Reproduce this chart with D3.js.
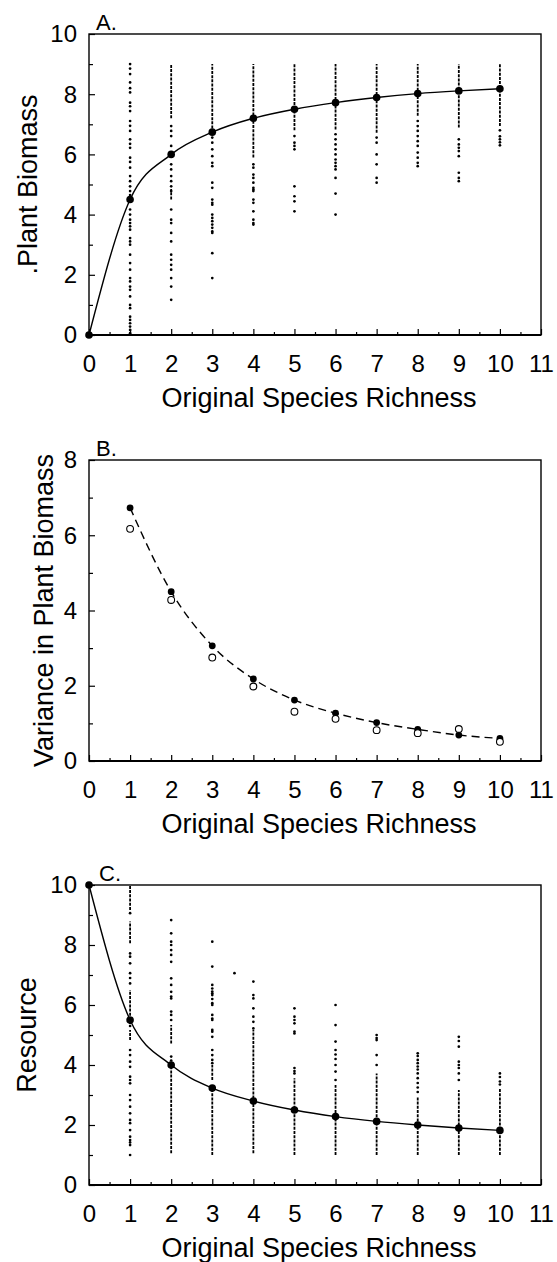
<!DOCTYPE html>
<html>
<head>
<meta charset="utf-8">
<script src="https://cdn.jsdelivr.net/npm/d3@7"></script>
<style>
  body { margin: 0; background: #fff; }
  svg { display: block; }
</style>
</head>
<body>
<svg></svg>
<script>
// ---- data ----
const richness = [0, 1, 2, 3, 4, 5, 6, 7, 8, 9, 10];
const xTickValues = [0, 1, 2, 3, 4, 5, 6, 7, 8, 9, 10, 11];
const xMinorValues = [0.5, 1.5, 2.5, 3.5, 4.5, 5.5, 6.5, 7.5, 8.5, 9.5, 10.5];

// A. plant biomass
const biomassMean = [0, 4.5, 6.0, 6.74, 7.2, 7.5, 7.72, 7.89, 8.02, 8.11, 8.18];
// dense stretches of the replicate columns: [richness, low, high]
const biomassRuns = [
  [2, 7.2, 9.0], [2, 4.5, 4.85], [3, 6.72, 9.0], [4, 5.9, 9.0], [5, 6.8, 9.0],
  [6, 6.83, 9.0], [7, 6.72, 9.0], [8, 7.28, 9.0], [9, 6.89, 9.0], [10, 6.94, 9.0]
];
const biomassDots = {
  1: [9.0, 8.85, 8.67, 8.39, 8.2, 8.06, 7.72, 7.6, 7.44, 7.11, 6.95, 6.78, 6.5, 6.35, 6.22, 5.89, 5.75, 5.56,
      5.28, 5.11, 4.94, 4.78, 4.65, 4.17, 4.0, 3.83, 3.72, 3.61, 3.5, 3.22, 3.11, 3.0, 2.67, 2.39, 2.17, 1.89,
      1.78, 1.61, 1.5, 1.28, 1.0, 0.89, 0.61, 0.5, 0.39, 0.28, 0.17, 0.06],
  2: [6.94, 6.78, 6.61, 6.28, 5.67, 5.5, 5.28, 5.11, 4.94, 4.78, 4.17, 3.83, 3.72, 3.39, 3.11, 2.67, 2.5, 2.33,
      2.17, 1.89, 1.61, 1.17],
  3: [6.56, 6.39, 6.17, 5.94, 5.72, 5.61, 5.06, 4.89, 4.5, 4.39, 4.33, 4.0, 3.89, 3.78, 3.67, 3.56, 3.44, 3.39,
      2.72, 1.89],
  4: [5.67, 5.56, 5.33, 5.22, 5.06, 4.89, 4.83, 4.78, 4.5, 4.39, 4.11, 3.83, 3.72, 3.67],
  5: [6.61, 6.39, 6.28, 6.17, 4.94, 4.61, 4.44, 4.11],
  6: [6.67, 6.5, 6.33, 6.17, 6.0, 5.83, 5.72, 5.61, 5.5, 5.22, 4.7, 4.0],
  7: [6.56, 6.39, 6.0, 5.67, 5.22, 5.06],
  8: [7.11, 6.94, 6.78, 6.61, 6.44, 6.28, 6.06, 5.89, 5.72, 5.61],
  9: [6.5, 6.33, 6.22, 6.11, 5.94, 5.39, 5.22, 5.11],
  10: [6.8, 6.6, 6.5, 6.4, 6.3]
};

// B. variance in plant biomass
const varRichness = [1, 2, 3, 4, 5, 6, 7, 8, 9, 10];
const varFilled = [6.73, 4.5, 3.06, 2.18, 1.62, 1.27, 1.02, 0.84, 0.69, 0.6];
const varOpen = [6.17, 4.28, 2.75, 1.98, 1.31, 1.12, 0.82, 0.74, 0.85, 0.51];

// C. resource
const resourceMean = [10, 5.5, 4.0, 3.23, 2.8, 2.5, 2.28, 2.12, 2.0, 1.9, 1.82];
const resourceRuns = [
  [1, 9.17, 10], [1, 8.06, 8.78], [1, 5.5, 6.5], [1, 4.83, 5.17],
  [2, 4.72, 5.33], [2, 1.06, 3.94], [3, 3.5, 4.0], [3, 1.0, 3.17],
  [4, 1.06, 5.17], [5, 1.0, 3.56], [6, 1.0, 3.33], [7, 1.0, 3.72],
  [8, 1.0, 2.94], [9, 1.0, 3.17], [10, 1.0, 3.2]
];
const resourceDots = {
  1: [9.06, 7.72, 7.61, 7.39, 7.06, 6.9, 6.72, 5.4, 5.3, 4.5, 4.33, 4.11, 3.94, 3.61, 3.5, 3.39, 3.0, 2.83,
      2.61, 2.39, 2.17, 2.06, 1.83, 1.61, 1.5, 1.42, 1.33, 1.0],
  2: [8.83, 8.39, 8.11, 8.0, 7.83, 7.67, 7.44, 6.89, 6.67, 6.44, 6.28, 6.22, 5.78, 5.67, 5.5, 4.28, 4.15],
  3: [8.11, 7.28, 6.67, 6.55, 6.45, 6.39, 6.33, 6.2, 6.06, 6.0, 5.67, 5.55, 5.5, 5.17, 5.11, 4.94, 4.5, 4.33,
      4.17, 4.06],
  3.54: [7.06],
  4: [6.78, 6.33, 6.22, 5.89, 5.61, 5.44, 5.22],
  5: [5.89, 5.61, 5.5, 5.39, 5.11, 5.05, 3.9, 3.8, 3.72],
  6: [6.0, 5.33, 4.78, 4.5, 4.35, 4.2, 4.0, 3.78, 3.5],
  7: [5.0, 4.9, 4.83, 4.33, 4.0],
  8: [4.39, 4.3, 4.17, 4.06, 3.95, 3.85, 3.72, 3.56, 3.4, 3.25, 3.1],
  9: [4.94, 4.8, 4.61, 4.11, 4.0, 3.9, 3.72, 3.5],
  10: [3.72, 3.6, 3.45, 3.35]
};

// ---- layout ----
const WIDTH = 557;
const HEIGHT = 1262;
const LEFT = 89;
const RIGHT = 541;
const FONT = '"Liberation Sans", Arial, Helvetica, sans-serif';
const TICK_FONT = 24;
const TITLE_FONT = 27;

const svg = d3.select('svg').
  attr('width', WIDTH).
  attr('height', HEIGHT).
  attr('font-family', FONT).
  style('background', '#fff');

function drawPanel(p) {
  const x = d3.scaleLinear().domain([0, 11]).range([LEFT, RIGHT]);
  const y = d3.scaleLinear().domain([0, p.yMax]).range([p.bottom, p.top]);
  const g = svg.append('g');

  // minor ticks
  g.append('g').
    attr('transform', `translate(0,${p.bottom})`).
    call(d3.axisBottom(x).tickValues(xMinorValues).tickSize(-3).tickFormat(''));
  g.append('g').
    attr('transform', `translate(${LEFT},0)`).
    call(d3.axisLeft(y).tickValues(p.yMinor).tickSize(-4).tickFormat(''));

  // major ticks with labels
  g.append('g').
    attr('transform', `translate(0,${p.bottom})`).
    call(d3.axisBottom(x).tickValues(xTickValues).tickSize(-6).tickPadding(20).tickFormat(d3.format('d')));
  const yAxis = g.append('g').
    attr('transform', `translate(${LEFT},0)`).
    call(d3.axisLeft(y).tickValues(p.yMajor).tickSize(-6).tickPadding(12).tickFormat(d3.format('d')));

  g.selectAll('.domain').remove();
  g.selectAll('.tick line').attr('stroke', '#000').attr('stroke-width', 1.2);
  g.selectAll('.tick text').
    attr('font-family', FONT).
    attr('font-size', TICK_FONT).
    attr('fill', '#000');
  yAxis.selectAll('.tick text').attr('dy', '0.33em');

  // frame
  g.append('rect').
    attr('x', LEFT).
    attr('y', p.top).
    attr('width', RIGHT - LEFT).
    attr('height', p.bottom - p.top).
    attr('fill', 'none').
    attr('stroke', '#000').
    attr('stroke-width', 1.4);
  g.append('line').
    attr('x1', LEFT).attr('x2', RIGHT).
    attr('y1', p.bottom).attr('y2', p.bottom).
    attr('stroke', '#000').
    attr('stroke-width', 2.2);

  // panel letter
  g.append('text').
    attr('x', LEFT + p.letterDx).
    attr('y', p.top - 4).
    attr('font-size', 22).
    text(p.letter);

  // axis titles
  g.append('text').
    attr('x', (LEFT + RIGHT) / 2 + 4).
    attr('y', p.bottom + 72).
    attr('text-anchor', 'middle').
    attr('font-size', TITLE_FONT).
    text('Original Species Richness');
  g.append('text').
    attr('transform', `translate(${p.yTitleX},${(p.top + p.bottom) / 2}) rotate(-90)`).
    attr('text-anchor', 'middle').
    attr('font-size', TITLE_FONT).
    text(p.yTitle);

  return { g, x, y };
}

function drawColumns(ctx, runs, dots) {
  const { g, x, y } = ctx;
  // where the replicate dots merge into a broken streak
  g.append('g').
    selectAll('line').
    data(runs).
    join('line').
    attr('x1', d => x(d[0])).
    attr('x2', d => x(d[0])).
    attr('y1', d => y(d[1])).
    attr('y2', d => y(d[2])).
    attr('stroke', '#000').
    attr('stroke-width', 1.8).
    attr('stroke-dasharray', '3,1.2');

  const flat = [];
  Object.keys(dots).forEach(k => dots[k].forEach(v => flat.push([+k, v])));
  g.append('g').
    selectAll('circle').
    data(flat).
    join('circle').
    attr('cx', d => x(d[0])).
    attr('cy', d => y(d[1])).
    attr('r', 1.35).
    attr('fill', '#000');
}

function drawMeanCurve(ctx, xs, ys, r, dashed) {
  const { g, x, y } = ctx;
  const pts = xs.map((v, i) => [v, ys[i]]);
  g.append('path').
    datum(pts).
    attr('fill', 'none').
    attr('stroke', '#000').
    attr('stroke-width', 1.4).
    attr('stroke-dasharray', dashed ? '8,5' : null).
    attr('d', d3.line().x(d => x(d[0])).y(d => y(d[1])).curve(d3.curveMonotoneX));
  g.append('g').
    selectAll('circle').
    data(pts).
    join('circle').
    attr('cx', d => x(d[0])).
    attr('cy', d => y(d[1])).
    attr('r', r).
    attr('fill', '#000');
}

// ---- panel A ----
const panelA = drawPanel({
  top: 34, bottom: 335, yMax: 10,
  yMajor: [0, 2, 4, 6, 8, 10], yMinor: [1, 3, 5, 7, 9],
  letter: 'A.', letterDx: 7,
  yTitle: '.Plant Biomass', yTitleX: 37
});
drawColumns(panelA, biomassRuns, biomassDots);
drawMeanCurve(panelA, richness, biomassMean, 3.8, false);

// ---- panel B ----
const panelB = drawPanel({
  top: 460, bottom: 761, yMax: 8,
  yMajor: [0, 2, 4, 6, 8], yMinor: [1, 3, 5, 7],
  letter: 'B.', letterDx: 7,
  yTitle: 'Variance in Plant Biomass', yTitleX: 53
});
drawMeanCurve(panelB, varRichness, varFilled, 3.4, true);
panelB.g.append('g').
  selectAll('circle').
  data(varRichness.map((v, i) => [v, varOpen[i]])).
  join('circle').
  attr('cx', d => panelB.x(d[0])).
  attr('cy', d => panelB.y(d[1])).
  attr('r', 3.4).
  attr('fill', '#fff').
  attr('stroke', '#000').
  attr('stroke-width', 1.1);

// ---- panel C ----
const panelC = drawPanel({
  top: 885, bottom: 1185, yMax: 10,
  yMajor: [0, 2, 4, 6, 8, 10], yMinor: [1, 3, 5, 7, 9],
  letter: 'C.', letterDx: 10,
  yTitle: 'Resource', yTitleX: 36
});
drawColumns(panelC, resourceRuns, resourceDots);
drawMeanCurve(panelC, richness, resourceMean, 3.8, false);
</script>
</body>
</html>
